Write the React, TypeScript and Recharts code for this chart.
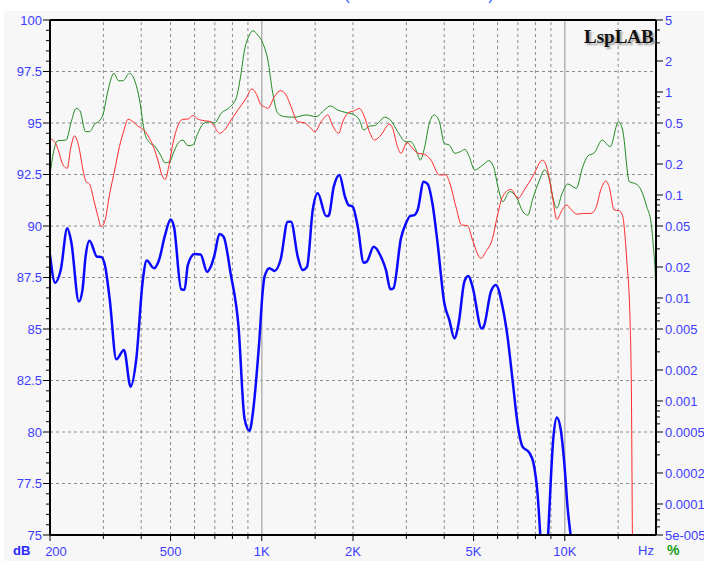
import React from 'react';
import { LineChart, Line, XAxis, YAxis, ReferenceLine } from 'recharts';

// ---------- data (frequency in Hz, level in dB) ----------
const blueFreq = [200, 208, 217, 228, 235, 249, 256, 262, 270, 286, 295, 304, 315, 331, 351, 369, 385, 405, 417, 441, 458, 478, 500, 513, 542, 556, 570, 600, 628, 660, 680, 698, 725, 748, 789, 838, 877, 911, 934, 978, 1008, 1021, 1060, 1101, 1153, 1218, 1249, 1314, 1365, 1411, 1473, 1530, 1629, 1660, 1728, 1804, 1882, 1931, 1996, 2073, 2170, 2220, 2341, 2487, 2570, 2656, 2720, 2879, 2990, 3092, 3190, 3269, 3421, 3526, 3664, 3804, 4004, 4158, 4320, 4464, 4663, 4805, 4961, 5315, 5400, 5702, 5921, 6231, 6471, 6724, 6982, 7252, 7631, 7884, 8128, 8340, 8550, 8770, 9175, 9410, 9700, 9954, 10210, 10520, 10800];
const blueDb = [88.6, 87.25, 87.86, 89.89, 89.24, 86.33, 86.9, 88.5, 89.29, 88.51, 88.5, 88.06, 86.41, 83.53, 83.98, 82.2, 83.5, 87.38, 88.32, 87.95, 88.35, 89.48, 90.32, 89.97, 86.93, 86.9, 88.1, 88.64, 88.62, 87.78, 88.06, 88.59, 89.61, 89.48, 87.7, 85.11, 80.66, 80.06, 80.9, 84.14, 86.9, 87.54, 87.95, 87.82, 88.35, 90.21, 90.21, 88.51, 87.86, 88.03, 90.78, 91.59, 90.49, 90.49, 91.91, 92.48, 91.42, 91.02, 90.94, 89.97, 88.22, 88.27, 88.99, 88.43, 87.86, 86.93, 86.98, 89.4, 90.13, 90.49, 90.53, 90.78, 92.15, 92.04, 91.02, 89.16, 86.25, 85.44, 84.55, 85.28, 87.3, 87.57, 87.05, 85.03, 85.11, 86.81, 87.14, 86.08, 84.63, 82.52, 80.42, 79.29, 79.0, 78.48, 77.02, 74.5, 72.0, 74.5, 79.77, 80.7, 80.1, 78.56, 76.38, 74.5, 72.0];

const redFreq = [200, 210, 221, 228, 234, 241, 249, 257, 263, 270, 279, 288, 295, 303, 315, 327, 339, 351, 362, 376, 390, 411, 426, 441, 454, 468, 480, 493, 509, 528, 549, 570, 592, 615, 647, 678, 698, 725, 753, 792, 834, 888, 927, 957, 995, 1021, 1047, 1101, 1153, 1203, 1249, 1314, 1383, 1436, 1498, 1569, 1651, 1710, 1794, 1850, 1920, 2021, 2099, 2170, 2265, 2353, 2474, 2636, 2704, 2794, 2879, 3014, 3124, 3269, 3440, 3616, 3855, 4052, 4158, 4372, 4564, 4778, 4961, 5285, 5489, 5776, 5999, 6231, 6638, 7022, 7349, 7828, 8444, 8770, 9108, 9410, 9828, 10154, 10460, 11016, 11441, 12184, 12650, 13146, 13651, 14010, 14550, 15112, 15492, 16014, 16432, 16600, 16718, 16850];
const redDb = [94.26, 93.93, 92.96, 92.8, 93.77, 94.37, 93.85, 92.72, 92.15, 92.04, 91.26, 90.45, 89.97, 90.21, 91.59, 92.72, 93.85, 94.66, 95.18, 95.06, 94.85, 94.61, 94.26, 93.77, 93.2, 92.48, 92.26, 92.88, 94.01, 94.85, 95.18, 95.19, 95.36, 95.19, 95.11, 95.06, 94.82, 94.5, 94.66, 95.15, 95.63, 96.2, 96.65, 96.44, 95.87, 95.79, 95.71, 96.28, 96.57, 96.36, 95.79, 95.06, 95.01, 94.82, 94.58, 95.06, 95.39, 94.9, 94.5, 95.06, 95.47, 95.6, 95.71, 95.39, 94.58, 94.17, 94.42, 94.94, 94.74, 93.93, 93.53, 94.05, 93.82, 93.53, 93.48, 93.2, 92.48, 92.48, 92.15, 90.94, 90.05, 90.02, 89.32, 88.43, 88.75, 89.4, 90.53, 91.42, 91.78, 91.34, 91.75, 92.39, 93.2, 92.72, 91.42, 90.32, 90.81, 91.02, 90.81, 90.57, 90.61, 90.61, 90.86, 91.75, 92.18, 91.91, 90.78, 90.74, 90.53, 88.35, 85.28, 81.55, 74.9, 70.0];

const greenFreq = [200, 205, 212, 226, 235, 244, 251, 262, 270, 281, 291, 299, 311, 325, 337, 348, 366, 382, 395, 411, 426, 443, 463, 480, 496, 513, 531, 549, 570, 592, 615, 644, 672, 698, 734, 783, 823, 851, 877, 911, 934, 970, 1008, 1047, 1087, 1129, 1188, 1282, 1400, 1510, 1610, 1685, 1780, 1882, 2021, 2099, 2170, 2265, 2353, 2444, 2539, 2656, 2807, 2990, 3107, 3228, 3336, 3440, 3572, 3710, 3855, 4004, 4158, 4339, 4520, 4681, 4840, 5038, 5365, 5615, 5821, 6014, 6246, 6573, 6914, 7270, 7552, 7846, 8254, 8572, 8904, 9175, 9410, 9800, 10232, 10906, 11466, 11912, 12532, 13286, 14120, 15034, 15520, 16340, 17186, 17860, 18640, 19280, 19600, 19900, 20000];
const greenDb = [92.48, 93.53, 94.14, 94.17, 95.06, 95.71, 95.6, 94.58, 94.58, 94.95, 95.1, 95.39, 96.6, 97.41, 97.05, 97.05, 97.41, 97.0, 96.12, 94.5, 94.05, 93.88, 93.45, 93.07, 93.12, 93.61, 94.05, 94.17, 93.9, 93.93, 94.5, 94.99, 95.06, 94.99, 95.47, 95.76, 96.2, 97.25, 98.54, 99.27, 99.48, 99.27, 98.87, 98.06, 96.44, 95.47, 95.31, 95.28, 95.39, 95.31, 95.63, 95.83, 95.63, 95.52, 95.39, 95.15, 94.66, 94.85, 94.87, 95.06, 95.28, 95.15, 94.58, 94.09, 94.09, 93.69, 93.2, 93.77, 94.99, 95.39, 95.06, 94.01, 93.93, 93.53, 93.61, 93.72, 93.36, 92.72, 92.96, 93.17, 92.88, 91.91, 91.18, 91.67, 91.42, 90.7, 90.53, 91.34, 92.23, 92.72, 92.23, 91.26, 90.86, 91.59, 92.04, 91.83, 92.88, 93.4, 93.56, 94.17, 93.85, 95.06, 94.66, 92.15, 92.04, 91.75, 90.94, 90.13, 89.0, 87.5, 86.2];

// ---------- axes ----------
const xTicks = [200, 300, 400, 500, 600, 700, 800, 900, 1000, 1500, 2000, 3000, 4000, 5000, 6000, 7000, 8000, 9000, 10000, 15000];
const xLabels: Record<number, string> = { 200: '200', 500: '500', 1000: '1K', 2000: '2K', 5000: '5K', 10000: '10K' };
const xGridDashed = [300, 400, 500, 600, 700, 800, 900, 1500, 2000, 3000, 4000, 5000, 6000, 7000, 8000, 9000, 15000];
const xGridSolid = [1000, 10000];

const dbMajor = [75, 77.5, 80, 82.5, 85, 87.5, 90, 92.5, 95, 97.5, 100];
const dbGrid = [77.5, 80, 82.5, 85, 87.5, 90, 92.5, 95, 97.5];
const dbTicks: number[] = [];
for (let i = 0; i <= 50; i++) dbTicks.push(75 + i * 0.5);

const pctLabels: Record<string, string> = {
  '5': '5', '2': '2', '1': '1', '0.5': '0.5', '0.2': '0.2', '0.1': '0.1', '0.05': '0.05', '0.02': '0.02',
  '0.01': '0.01', '0.005': '0.005', '0.002': '0.002', '0.001': '0.001', '0.0005': '0.0005', '0.0002': '0.0002',
  '0.0001': '0.0001', '0.00005': '5e-005',
};
const pctTicks: number[] = [];
for (let e = -5; e <= 0; e++) {
  for (let m = 1; m <= 9; m++) {
    const v = Number((m * Math.pow(10, e)).toPrecision(3));
    if (v >= 0.00005 - 1e-12 && v <= 5 + 1e-9) pctTicks.push(v);
  }
}

const toPoints = (f: number[], v: number[]) => f.map((x, i) => ({ f: x, v: v[i] }));
const blueData = toPoints(blueFreq, blueDb);
const redData = toPoints(redFreq, redDb);
const greenData = toPoints(greenFreq, greenDb);

// ---------- styles ----------
const LABEL = '#3d3dff';
const FONT = '"Liberation Sans", Arial, sans-serif';
const PLOT_L = 50;
const PLOT_R = 656;
const PLOT_B = 535;

const LeftTick = (props: any) => {
  const { y, payload } = props;
  const v: number = payload.value;
  const major = dbMajor.some((m) => Math.abs(m - v) < 1e-6);
  const len = major ? 7 : 4;
  return (
    <g>
      <line x1={PLOT_L - len} x2={PLOT_L} y1={y} y2={y} stroke="#000" strokeWidth={1} />
      {major && (
        <text x={PLOT_L - 8} y={y} dy="0.36em" textAnchor="end" fill={LABEL} fontSize={13} fontFamily={FONT}>
          {Number.isInteger(v) ? String(v) : v.toFixed(1)}
        </text>
      )}
    </g>
  );
};

const RightTick = (props: any) => {
  const { y, payload } = props;
  const v: number = payload.value;
  const label = pctLabels[String(v)];
  const len = label ? 7 : 4;
  return (
    <g>
      <line x1={PLOT_R} x2={PLOT_R + len} y1={y} y2={y} stroke="#000" strokeWidth={1} />
      {label && (
        <text x={PLOT_R + 9} y={y} dy="0.36em" textAnchor="start" fill={LABEL} fontSize={13} fontFamily={FONT}>
          {label}
        </text>
      )}
    </g>
  );
};

const BottomTick = (props: any) => {
  const { x, payload } = props;
  const v: number = payload.value;
  const label = xLabels[v];
  const len = label ? 6 : 4;
  return (
    <g>
      <line x1={x} x2={x} y1={PLOT_B} y2={PLOT_B + len} stroke="#000" strokeWidth={1} />
      {label && (
        <text x={v === 200 ? x + 6 : x} y={PLOT_B + 21} textAnchor="middle" fill={LABEL} fontSize={13} fontFamily={FONT}>
          {label}
        </text>
      )}
    </g>
  );
};

export default function App() {
  return (
    <div style={{ position: 'absolute', left: 0, top: 0, width: 704, height: 561, background: '#fff', overflow: 'hidden' }}>
      <div style={{ position: 'absolute', left: 4, top: 11, right: 0, bottom: 0, background: '#f7f7f7' }} />
      <div
        style={{
          position: 'absolute', left: 344, top: -15, color: '#2a5cff', fontFamily: FONT, fontSize: 17,
          width: 150, display: 'flex', justifyContent: 'space-between',
        }}
      >
        <span>(</span>
        <span>)</span>
      </div>
      <div style={{ position: 'absolute', left: 0, top: 0 }}>
        <LineChart width={704} height={561} margin={{ top: 20, right: 0, bottom: 0, left: 0 }}>
          <XAxis
            dataKey="f"
            type="number"
            scale="log"
            domain={[200, 20000]}
            allowDataOverflow
            ticks={xTicks}
            interval={0}
            height={26}
            axisLine={{ stroke: '#000', strokeWidth: 2 }}
            tickLine={false}
            tick={<BottomTick />}
          />
          <YAxis
            yAxisId="db"
            type="number"
            domain={[75, 100]}
            allowDataOverflow
            ticks={dbTicks}
            interval={0}
            width={50}
            axisLine={{ stroke: '#000', strokeWidth: 2 }}
            tickLine={false}
            tick={<LeftTick />}
          />
          <YAxis
            yAxisId="pct"
            orientation="right"
            type="number"
            scale="log"
            domain={[0.00005, 5]}
            allowDataOverflow
            ticks={pctTicks}
            interval={0}
            width={48}
            axisLine={{ stroke: '#000', strokeWidth: 2 }}
            tickLine={false}
            tick={<RightTick />}
          />
          {dbGrid.map((v) => (
            <ReferenceLine key={'h' + v} yAxisId="db" y={v} stroke="#8c8c8c" strokeDasharray="3 3" strokeWidth={1} />
          ))}
          {xGridDashed.map((v) => (
            <ReferenceLine key={'v' + v} yAxisId="db" x={v} stroke="#8c8c8c" strokeDasharray="3 3" strokeWidth={1} />
          ))}
          {xGridSolid.map((v) => (
            <ReferenceLine key={'s' + v} yAxisId="db" x={v} stroke="#b4b4b4" strokeWidth={1.5} />
          ))}
          <ReferenceLine yAxisId="db" y={100} stroke="#000" strokeWidth={2} />
          <Line data={greenData} yAxisId="db" dataKey="v" type="monotone" stroke="#1f8a1f" strokeWidth={1} dot={false} isAnimationActive={false} />
          <Line data={redData} yAxisId="db" dataKey="v" type="monotone" stroke="#ff2a2a" strokeWidth={1} dot={false} isAnimationActive={false} />
          <Line data={blueData} yAxisId="db" dataKey="v" type="monotone" stroke="#0a0aff" strokeWidth={2.5} dot={false} isAnimationActive={false} />
        </LineChart>
      </div>
      <div style={{ position: 'absolute', left: 13, top: 543, color: '#2a2aff', fontFamily: FONT, fontSize: 13, fontWeight: 'bold' }}>dB</div>
      <div style={{ position: 'absolute', left: 638, top: 543, color: LABEL, fontFamily: FONT, fontSize: 13 }}>Hz</div>
      <div style={{ position: 'absolute', left: 667, top: 542, color: '#22a022', fontFamily: FONT, fontSize: 14, fontWeight: 'bold' }}>%</div>
      <div
        style={{
          position: 'absolute', left: 584, top: 26, fontFamily: '"Liberation Serif", "Times New Roman", serif',
          fontSize: 19, fontWeight: 'bold', color: '#111', textShadow: '2px 2px 2px #9a9a9a',
        }}
      >
        LspLAB
      </div>
    </div>
  );
}
